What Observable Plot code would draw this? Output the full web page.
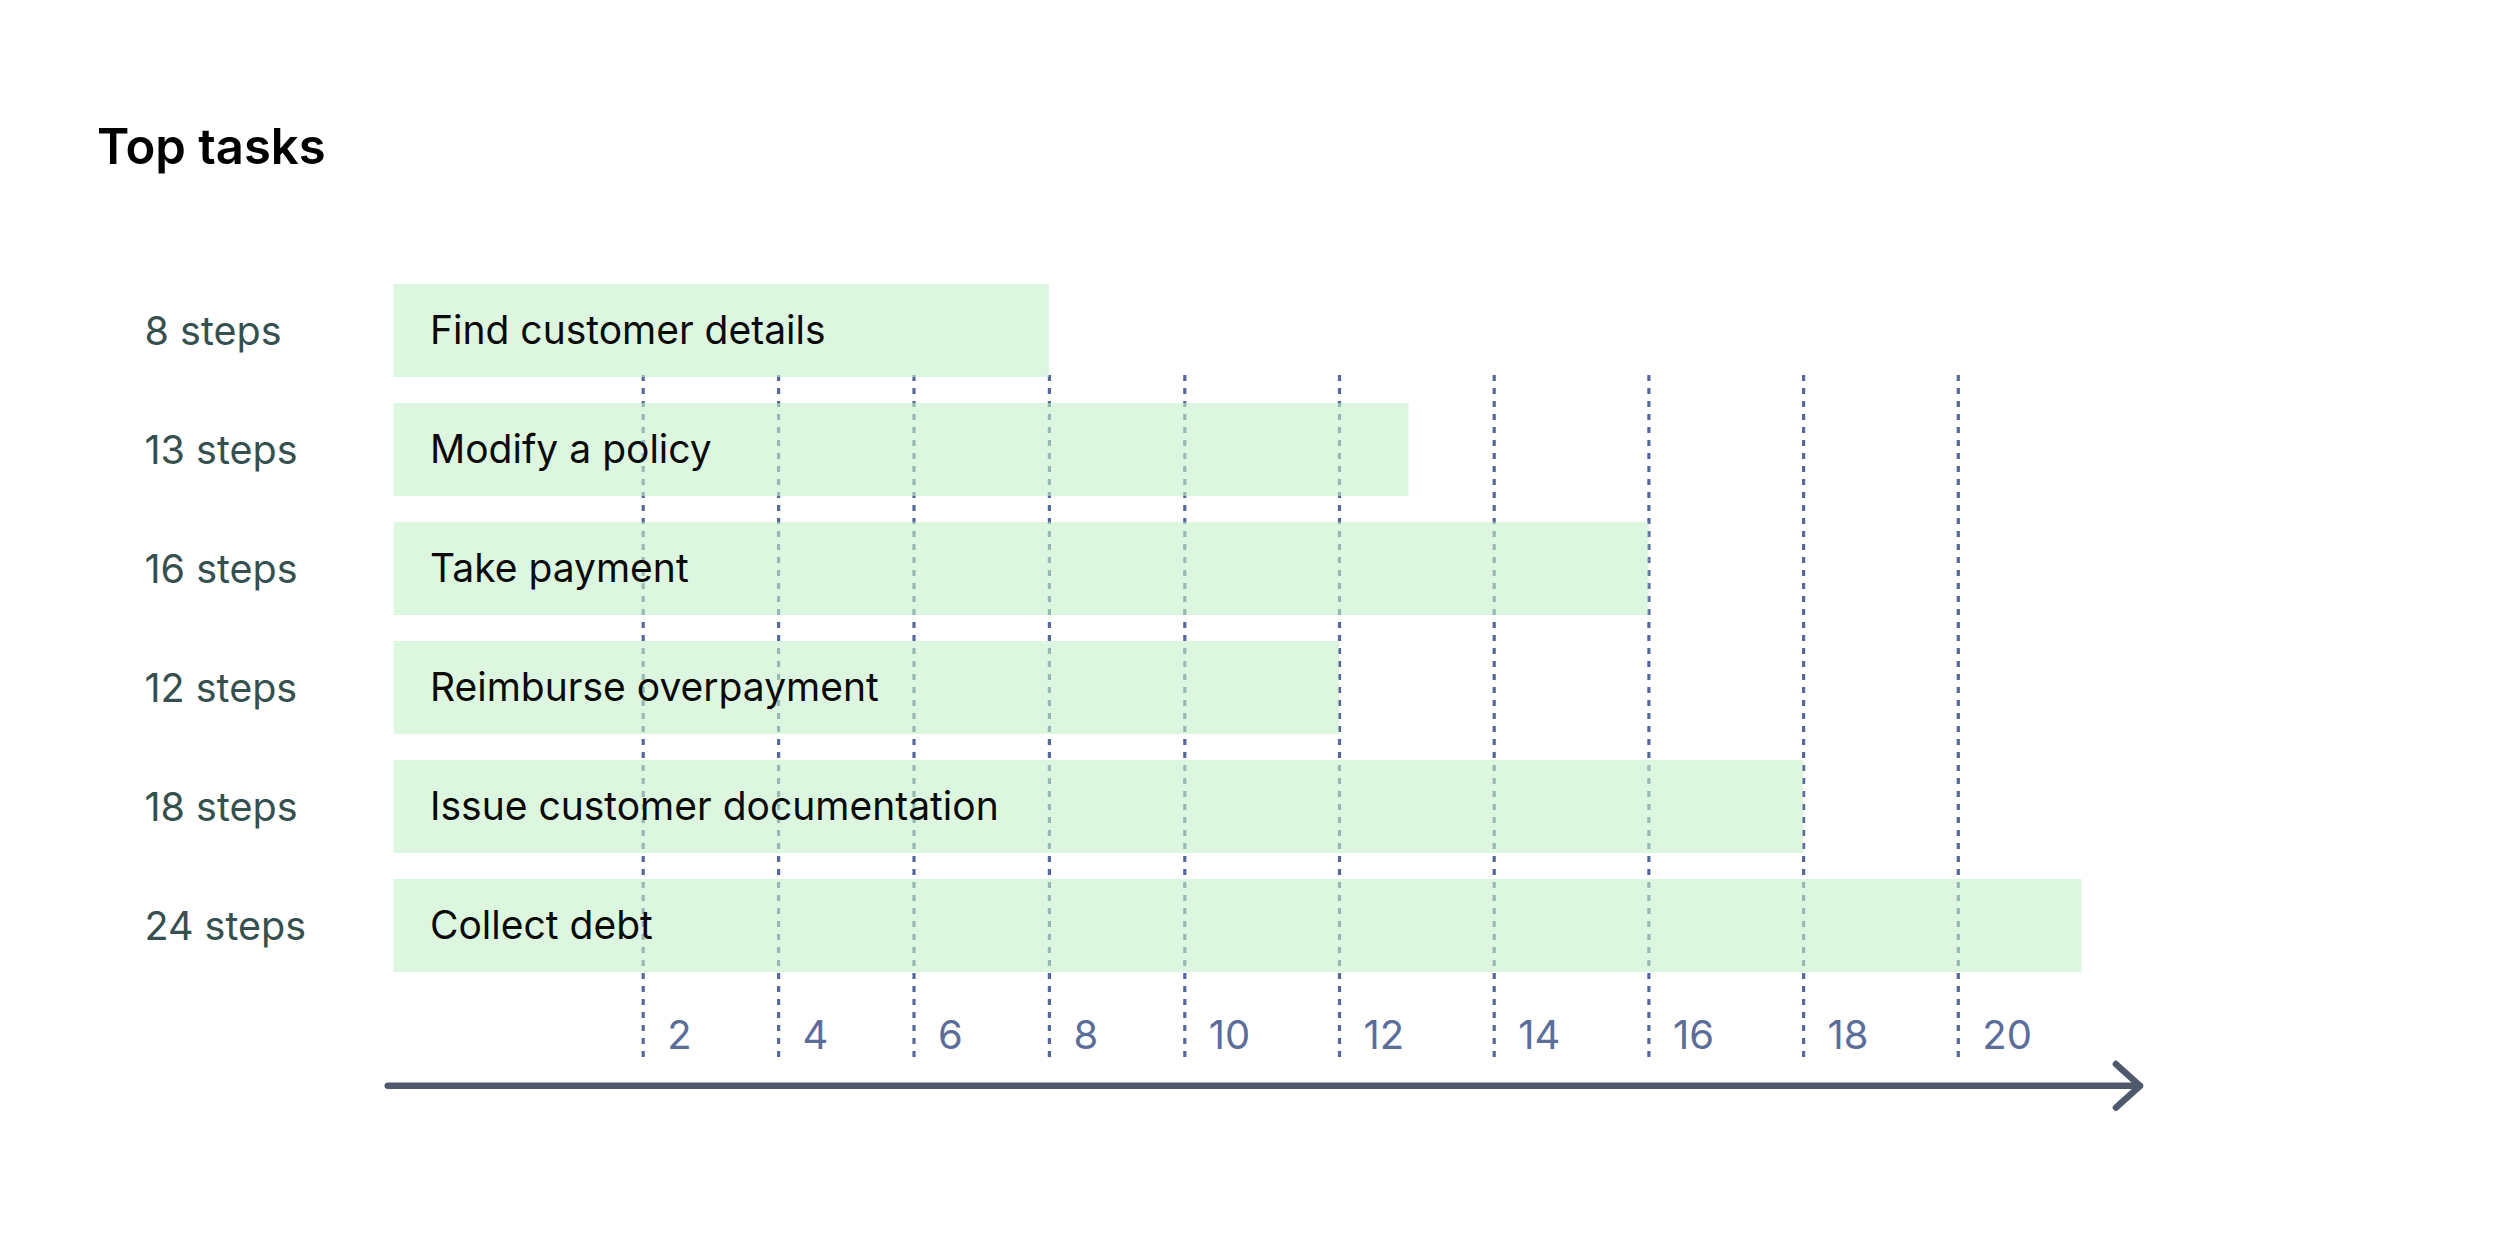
<!DOCTYPE html>
<html>
<head>
<meta charset="utf-8">
<script src="https://cdn.jsdelivr.net/npm/d3@7"></script>
<script src="https://cdn.jsdelivr.net/npm/@observablehq/plot@0.6"></script>
<style>
  html, body { margin: 0; padding: 0; background: #ffffff; }
  #wrap { position: relative; width: 2500px; height: 1250px; overflow: hidden; }
  #title { position: absolute; left: 97px; top: 122px; margin: 0;
    font-family: Inter, "Noto Sans", sans-serif; font-weight: 600; font-size: 49px; line-height: 49px; color: #000; }
  #chart { position: absolute; left: 0; top: 0; }
</style>
</head>
<body>
<div id="wrap">
  <div id="chart"></div>
  <h1 id="title">Top tasks</h1>
</div>
<script>
// ---- data ----
const tasks = ["Find customer details", "Modify a policy", "Take payment", "Reimburse overpayment", "Issue customer documentation", "Collect debt"];
const steps = [8, 13, 16, 12, 18, 24];              // labelled step counts
const barLength = [8, 12.9, 16, 12, 18, 21.6];       // drawn bar length read on the axis
const tickValues = [2, 4, 6, 8, 10, 12, 14, 16, 18, 20];
const axisExtent = [-0.05, 22.35];                   // axis arrow from / to (axis units)
// piecewise axis as drawn in the reference (0-2, 2-10, 10-20 have different spacing)
const axisBreaks = [0, 2, 10, 20];

const rows = tasks.map((t, i) => ({task: t, steps: steps[i], length: barLength[i]}));

const chart = Plot.plot({
  width: 2500,
  height: 1250,
  marginTop: 375,
  marginBottom: 193,
  marginLeft: 0,
  marginRight: 0,
  style: {fontFamily: "Inter, 'Noto Sans', sans-serif", background: "transparent"},
  x: {type: "linear", domain: axisBreaks, range: [393.5, 642.7, 1184.3, 1957.8], axis: null},
  y: {type: "band", domain: tasks, range: [283.3, 972.2], paddingInner: 0.216, paddingOuter: 0, axis: null},
  marks: [
    Plot.ruleX(tickValues, {x: d => d, stroke: "#56689a", strokeWidth: 3.2, strokeDasharray: "6,7"}),
    Plot.barX(rows, {x: "length", y: "task", fill: "rgb(197,240,200)", fillOpacity: 0.59}),
    Plot.text(rows, {x: 0, y: "task", text: "task", textAnchor: "start", dx: 36, dy: 1, fontSize: 39, fill: "#0a0a0a"}),
    Plot.text(rows, {y: "task", text: d => `${d.steps} steps`, frameAnchor: "left", textAnchor: "start", dx: 144, dy: 1, fontSize: 39.5, fill: "#35504f"}),
    Plot.text(tickValues, {x: d => d, text: d => String(d), frameAnchor: "bottom", lineAnchor: "middle", textAnchor: "start", dx: 24, dy: -21, fontSize: 40, fill: "#5b6e9a"}),
    Plot.arrow([axisExtent], {x1: d => d[0], x2: d => d[1], y1: () => tasks[tasks.length - 1], y2: () => tasks[tasks.length - 1], dy: 159.8,
      stroke: "#4e596b", strokeWidth: 6.5, headLength: 7.5, headAngle: 84, strokeLinecap: "round", strokeLinejoin: "round"})
  ]
});
document.getElementById("chart").appendChild(chart);
</script>
</body>
</html>
